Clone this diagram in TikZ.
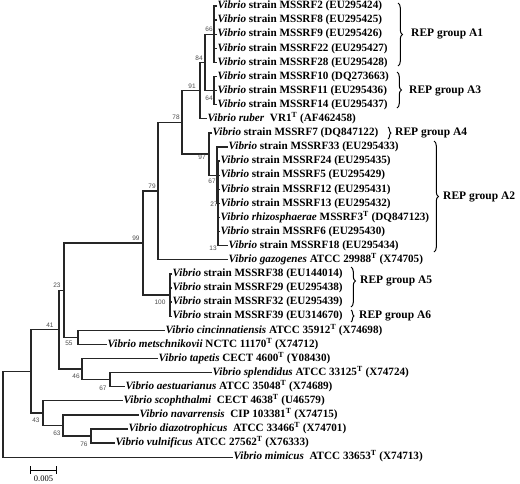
\documentclass[tikz,border=0pt]{standalone}
\usepackage{fontspec}
\setmainfont{Liberation Serif}
\newfontfamily\bsfont{Liberation Sans}
\usetikzlibrary{decorations.pathreplacing}
\newcommand{\tsp}{\textsuperscript{T}}
\begin{document}
\begin{tikzpicture}[x=1pt,y=-1pt,
 leaf/.style={anchor=west, inner sep=0.4pt, font=\fontsize{11.15}{12}\selectfont\bfseries, text height=7.5pt, text depth=2pt},
 br/.style={line width=1.25pt, draw=black!85, line join=miter},
 bs/.style={font=\bsfont\fontsize{6.5}{7}\selectfont, text=black!70, inner sep=0pt},
 grp/.style={anchor=west, inner sep=0pt, font=\fontsize{11.5}{12}\selectfont\bfseries},
 brc/.style={decorate, decoration={brace, amplitude=4.5pt}, line width=1pt}]
\useasboundingbox (0,0) rectangle (520,483);
% leaves
\node[leaf] (L1) at (217,6) {\textit{Vibrio} strain MSSRF2 (EU295424)};
\node[leaf] (L2) at (217,20.1) {\textit{Vibrio} strain MSSRF8 (EU295425)};
\node[leaf] (L3) at (217,34.2) {\textit{Vibrio} strain MSSRF9 (EU295426)};
\node[leaf] (L4) at (217,48.3) {\textit{Vibrio} strain MSSRF22 (EU295427)};
\node[leaf] (L5) at (217,62.4) {\textit{Vibrio} strain MSSRF28 (EU295428)};
\node[leaf] (L6) at (217,76.5) {\textit{Vibrio} strain MSSRF10 (DQ273663)};
\node[leaf] (L7) at (217,90.6) {\textit{Vibrio} strain MSSRF11 (EU295436)};
\node[leaf] (L8) at (217,104.7) {\textit{Vibrio} strain MSSRF14 (EU295437)};
\node[leaf] (L9) at (207,118.8) {\textit{Vibrio ruber}\ \ VR1\tsp\ (AF462458)};
\node[leaf] (L10) at (212,132.9) {\textit{Vibrio} strain MSSRF7 (DQ847122)};
\node[leaf] (L11) at (228,147) {\textit{Vibrio} strain MSSRF33 (EU295433)};
\node[leaf] (L12) at (220,161.1) {\textit{Vibrio} strain MSSRF24 (EU295435)};
\node[leaf] (L13) at (220,175.2) {\textit{Vibrio} strain MSSRF5 (EU295429)};
\node[leaf] (L14) at (220,189.3) {\textit{Vibrio} strain MSSRF12 (EU295431)};
\node[leaf] (L15) at (220,203.4) {\textit{Vibrio} strain MSSRF13 (EU295432)};
\node[leaf] (L16) at (220,217.5) {\textit{Vibrio rhizosphaerae} MSSRF3\tsp\ (DQ847123)};
\node[leaf] (L17) at (220,231.6) {\textit{Vibrio} strain MSSRF6 (EU295430)};
\node[leaf] (L18) at (228,245.7) {\textit{Vibrio} strain MSSRF18 (EU295434)};
\node[leaf] (L19) at (228,259.8) {\textit{Vibrio gazogenes} ATCC 29988\tsp\ (X74705)};
\node[leaf] (L20) at (172,273.9) {\textit{Vibrio} strain MSSRF38 (EU144014)};
\node[leaf] (L21) at (172,288) {\textit{Vibrio} strain MSSRF29 (EU295438)};
\node[leaf] (L22) at (172,302.1) {\textit{Vibrio} strain MSSRF32 (EU295439)};
\node[leaf] (L23) at (172,316.2) {\textit{Vibrio} strain MSSRF39 (EU314670)};
\node[leaf] (L24) at (165,330.3) {\textit{Vibrio cincinnatiensis} ATCC 35912\tsp\ (X74698)};
\node[leaf] (L25) at (107,344.4) {\textit{Vibrio metschnikovii} NCTC 11170\tsp\ (X74712)};
\node[leaf] (L26) at (158,358.5) {\textit{Vibrio tapetis} CECT 4600\tsp\ (Y08430)};
\node[leaf] (L27) at (212,372.6) {\textit{Vibrio splendidus} ATCC 33125\tsp\ (X74724)};
\node[leaf] (L28) at (125,386.7) {\textit{Vibrio aestuarianus} ATCC 35048\tsp\ (X74689)};
\node[leaf] (L29) at (123,400.8) {\textit{Vibrio scophthalmi}\ \ CECT 4638\tsp\ (U46579)};
\node[leaf] (L30) at (139,414.9) {\textit{Vibrio navarrensis}\ \ CIP 103381\tsp\ (X74715)};
\node[leaf] (L31) at (128,429) {\textit{Vibrio diazotrophicus}\ \ ATCC 33466\tsp\ (X74701)};
\node[leaf] (L32) at (115,443.1) {\textit{Vibrio vulnificus} ATCC 27562\tsp\ (X76333)};
\node[leaf] (L33) at (233,457.2) {\textit{Vibrio mimicus}\ \ ATCC 33653\tsp\ (X74713)};
% internal nodes
\coordinate (nA1) at (214,34.2);
\coordinate (nA3) at (214,90.6);
\coordinate (n84) at (205,62.4);
\coordinate (n91) at (200,90.6);
\coordinate (n27) at (218,203.4);
\coordinate (n67) at (217,175.2);
\coordinate (n97) at (209,154);
\coordinate (n78) at (182,122.3);
\coordinate (n79) at (158,191);
\coordinate (n100) at (170,295);
\coordinate (n99) at (143,243);
\coordinate (n55) at (78,337.4);
\coordinate (n23) at (64,290.2);
\coordinate (n67b) at (110,379.6);
\coordinate (n46) at (82,369);
\coordinate (n41) at (59,329.6);
\coordinate (n76) at (91,436);
\coordinate (n63) at (63,425.5);
\coordinate (n43) at (43,413.1);
\coordinate (n31) at (31,371.4);
\coordinate (root) at (3,414.3);
% branches
\draw[br] (L1.west) -| (nA1) |- (L5.west);
\foreach \i in {2,3,4} \draw[br] (L\i.west) -- (L\i.west -| nA1);
\draw[br] (L6.west) -| (nA3) |- (L8.west);
\draw[br] (L7.west) -- (L7.west -| nA3);
\draw[br] (nA1) -| (n84) |- (nA3);
\draw[br] (n84) -| (n91) |- (L9.west);
\draw[br] (n91) -| (n78) |- (n97);
\draw[br] (L10.west) -| (n97) |- (n67);
\draw[br] (L11.west) -| (n67) |- (n27);
\draw[br] (L12.west) -| (n27) |- (L18.west);
\foreach \i in {13,14,15,16,17} \draw[br] (L\i.west) -- (L\i.west -| n27);
\draw[br] (n78) -| (n79) |- (L19.west);
\draw[br] (L20.west) -| (n100) |- (L23.west);
\foreach \i in {21,22} \draw[br] (L\i.west) -- (L\i.west -| n100);
\draw[br] (n79) -| (n99) |- (n100);
\draw[br] (n99) -| (n23) |- (n55);
\draw[br] (L24.west) -| (n55) |- (L25.west);
\draw[br] (n23) -| (n41) |- (n46);
\draw[br] (L26.west) -| (n46) |- (n67b);
\draw[br] (L27.west) -| (n67b) |- (L28.west);
\draw[br] (n41) -| (n31) |- (n43);
\draw[br] (L29.west) -| (n43) |- (n63);
\draw[br] (L30.west) -| (n63) |- (n76);
\draw[br] (L31.west) -| (n76) |- (L32.west);
\draw[br] (n31) -| (root) |- (L33.west);
% bootstrap values
\node[bs] (b66) at (209,29) {66};
\node[bs] (b64) at (209,98) {64};
\node[bs] (b84) at (199,58) {84};
\node[bs] (b91) at (192,86) {91};
\node[bs] (b78) at (176,117) {78};
\node[bs] (b97) at (202,157) {97};
\node[bs] (b67) at (212,181) {67};
\node[bs] (b27) at (214,204) {27};
\node[bs] (b13) at (213,248) {13};
\node[bs] (b79) at (152,186) {79};
\node[bs] (b99) at (136,238) {99};
\node[bs] (b100) at (160,302) {100};
\node[bs] (b23) at (57,285) {23};
\node[bs] (b41) at (50,325) {41};
\node[bs] (b55) at (69,343) {55};
\node[bs] (b46) at (76,376) {46};
\node[bs] (b67b) at (103,388) {67};
\node[bs] (b43) at (36,420) {43};
\node[bs] (b63) at (57,433) {63};
\node[bs] (b76) at (84,444) {76};
% REP group braces
\coordinate (a1t) at (398,3); \coordinate (a1b) at (398,66);
\draw[brc] (a1t) -- (a1b);
\node[grp] (g1) at (411,34.2) {REP group A1};
\coordinate (a3t) at (397,72); \coordinate (a3b) at (397,108);
\draw[brc] (a3t) -- (a3b);
\node[grp] (g3) at (409,90.6) {REP group A3};
\coordinate (a4t) at (388,127); \coordinate (a4b) at (388,139);
\draw[brc, decoration={brace, amplitude=3pt}] (a4t) -- (a4b);
\node[grp] (g4) at (395,132.9) {REP group A4};
\coordinate (a2t) at (434,141); \coordinate (a2b) at (434,252);
\draw[brc] (a2t) -- (a2b);
\node[grp] (g2) at (443,196.5) {REP group A2};
\coordinate (a5t) at (351,267); \coordinate (a5b) at (351,307);
\draw[brc, decoration={brace, amplitude=4.5pt, aspect=0.35}] (a5t) -- (a5b);
\node[grp] (g5) at (360,281) {REP group A5};
\coordinate (a6t) at (351,310); \coordinate (a6b) at (351,322);
\draw[brc, decoration={brace, amplitude=3pt}] (a6t) -- (a6b);
\node[grp] (g6) at (359,316) {REP group A6};
% scale bar
\coordinate (s1) at (30,470); \coordinate (s2) at (57,470);
\draw[line width=0.8pt, |-|] (s1) -- (s2);
\node[font=\fontsize{8.5}{9}\selectfont, inner sep=0pt] (sc) at (43.5,479) {0.005};
\end{tikzpicture}
\end{document}
